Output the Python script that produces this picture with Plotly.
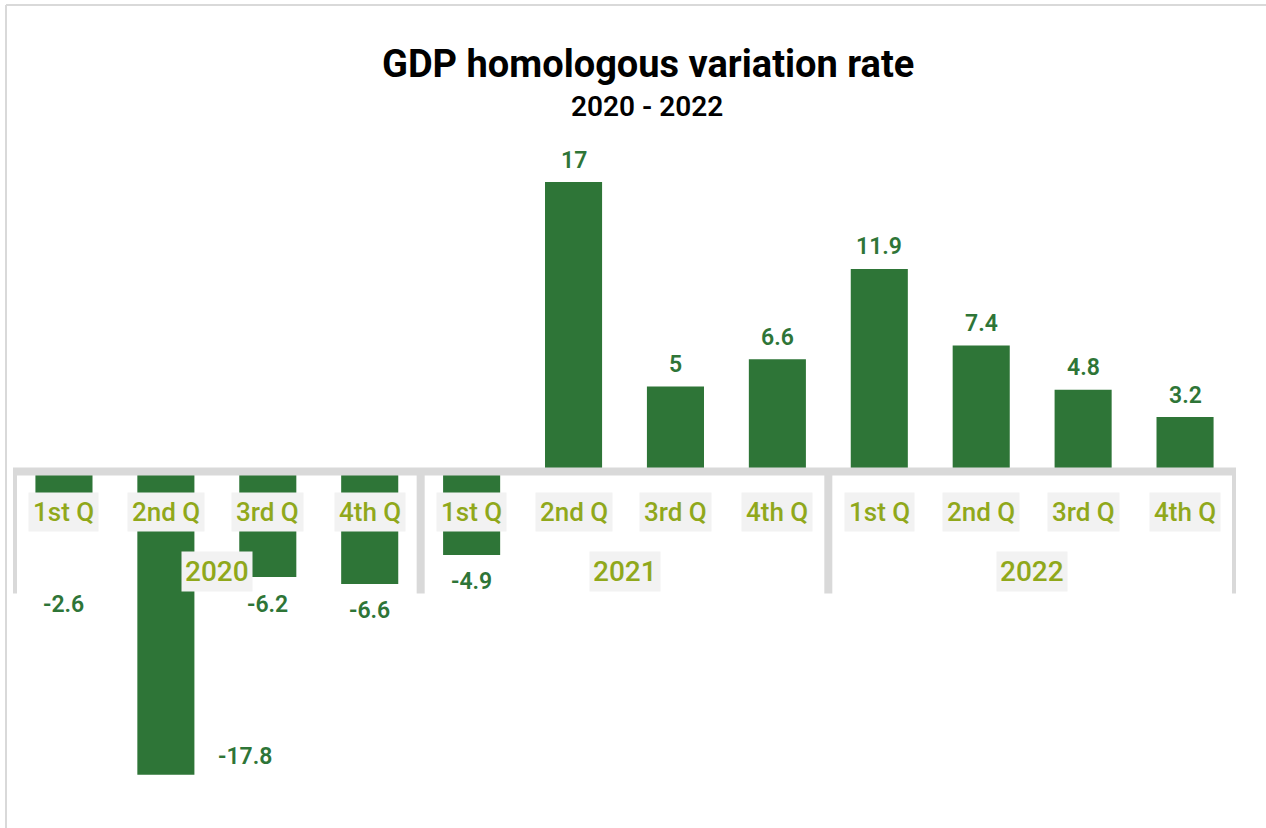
import plotly.graph_objects as go

# Quarterly GDP year-on-year (homologous) variation, %
years = ["2020", "2021", "2022"]
quarters = ["1st Q", "2nd Q", "3rd Q", "4th Q"]
gdp_rate = [-2.6, -17.8, -6.2, -6.6, -4.9, 17, 5, 6.6, 11.9, 7.4, 4.8, 3.2]

BAR_GREEN = "#2E7537"
OLIVE = "#90A81B"
AXIS_GREY = "#D9D9D9"
LABEL_BG = "#F2F2F2"
FONT = "Roboto"

keys = [f"{y} {q}" for y in years for q in quarters]

W, H = 1266, 828
M_L, M_R, M_T, M_B = 13, 30, 140, 28
Y_RANGE = [-19.29, 19.47]
plot_h = H - M_T - M_B


def paper_y(px):
    return (H - M_B - px) / plot_h


def paper_x(px):
    return (px - M_L) / (W - M_L - M_R)


fig = go.Figure(
    go.Bar(
        x=keys,
        y=gdp_rate,
        marker=dict(color=BAR_GREEN, line=dict(width=0)),
        width=0.56,
        hoverinfo="skip",
    )
)

annotations = []

# value labels; a few negative ones are nudged away from the axis labels
label_nudge = {0: (0, -89), 1: (79, 18)}
for i, (k, v) in enumerate(zip(keys, gdp_rate)):
    dx, dy = label_nudge.get(i, (0, 22 if v >= 0 else -27))
    annotations.append(dict(
        x=k, y=v, xref="x", yref="y", text=f"{v:g}",
        showarrow=False, xanchor="center", yanchor="middle",
        xshift=dx, yshift=dy,
        font=dict(family=FONT, size=23, color=BAR_GREEN, weight=600),
    ))

# quarter labels under the zero line
for k, q in zip(keys, [q for _ in years for q in quarters]):
    annotations.append(dict(
        x=k, y=0, xref="x", yref="y", text=q, showarrow=False,
        xanchor="center", yanchor="middle", yshift=-40,
        bgcolor=LABEL_BG, borderpad=4,
        font=dict(family=FONT, size=26, color=OLIVE, weight=500),
    ))

# year labels centred under each group of four quarters
nq = len(quarters)
for gi, y in enumerate(years):
    annotations.append(dict(
        x=gi * nq + (nq - 1) / 2, y=0, xref="x", yref="y", text=y,
        showarrow=False, xanchor="center", yanchor="middle", yshift=-100,
        bgcolor=LABEL_BG, borderpad=3,
        font=dict(family=FONT, size=28, color=OLIVE, weight=500),
    ))

# titles
annotations.append(dict(
    x=paper_x(648), y=paper_y(64), xref="paper", yref="paper",
    text="<b>GDP homologous variation rate</b>", showarrow=False,
    xanchor="center", yanchor="middle",
    font=dict(family=FONT, size=38, color="#000000"),
))
annotations.append(dict(
    x=paper_x(647), y=paper_y(106), xref="paper", yref="paper",
    text="2020 - 2022", showarrow=False, xanchor="center", yanchor="middle",
    font=dict(family=FONT, size=28, color="#000000", weight=600),
))

# grouped-category bracket axis along zero
n = len(keys)
bracket_depth = -122
path = f"M -0.5,{bracket_depth} L -0.5,0 L {n - 0.5},0 L {n - 0.5},{bracket_depth}"
for g in range(1, len(years)):
    xd = g * nq - 0.5
    path += f" M {xd},0 L {xd},{bracket_depth}"

shapes = [
    dict(type="path", path=path, xref="x", yref="y", ysizemode="pixel",
         yanchor=0, line=dict(color=AXIS_GREY, width=8), layer="above"),
    # chart frame (top and left edges)
    dict(type="line", xref="paper", yref="paper",
         x0=paper_x(6), x1=paper_x(W + 10), y0=paper_y(5), y1=paper_y(5),
         line=dict(color=AXIS_GREY, width=2)),
    dict(type="line", xref="paper", yref="paper",
         x0=paper_x(6), x1=paper_x(6), y0=paper_y(5), y1=paper_y(H + 10),
         line=dict(color=AXIS_GREY, width=2)),
]

fig.update_layout(
    width=W, height=H,
    margin=dict(l=M_L, r=M_R, t=M_T, b=M_B, pad=0),
    paper_bgcolor="#FFFFFF", plot_bgcolor="#FFFFFF",
    showlegend=False,
    xaxis=dict(type="category", range=[-0.5, n - 0.5], showticklabels=False,
               showgrid=False, zeroline=False, showline=False, ticks=""),
    yaxis=dict(range=Y_RANGE, showticklabels=False, showgrid=False,
               zeroline=False, showline=False, ticks=""),
    annotations=annotations,
    shapes=shapes,
)

fig.write_html("out.html")
